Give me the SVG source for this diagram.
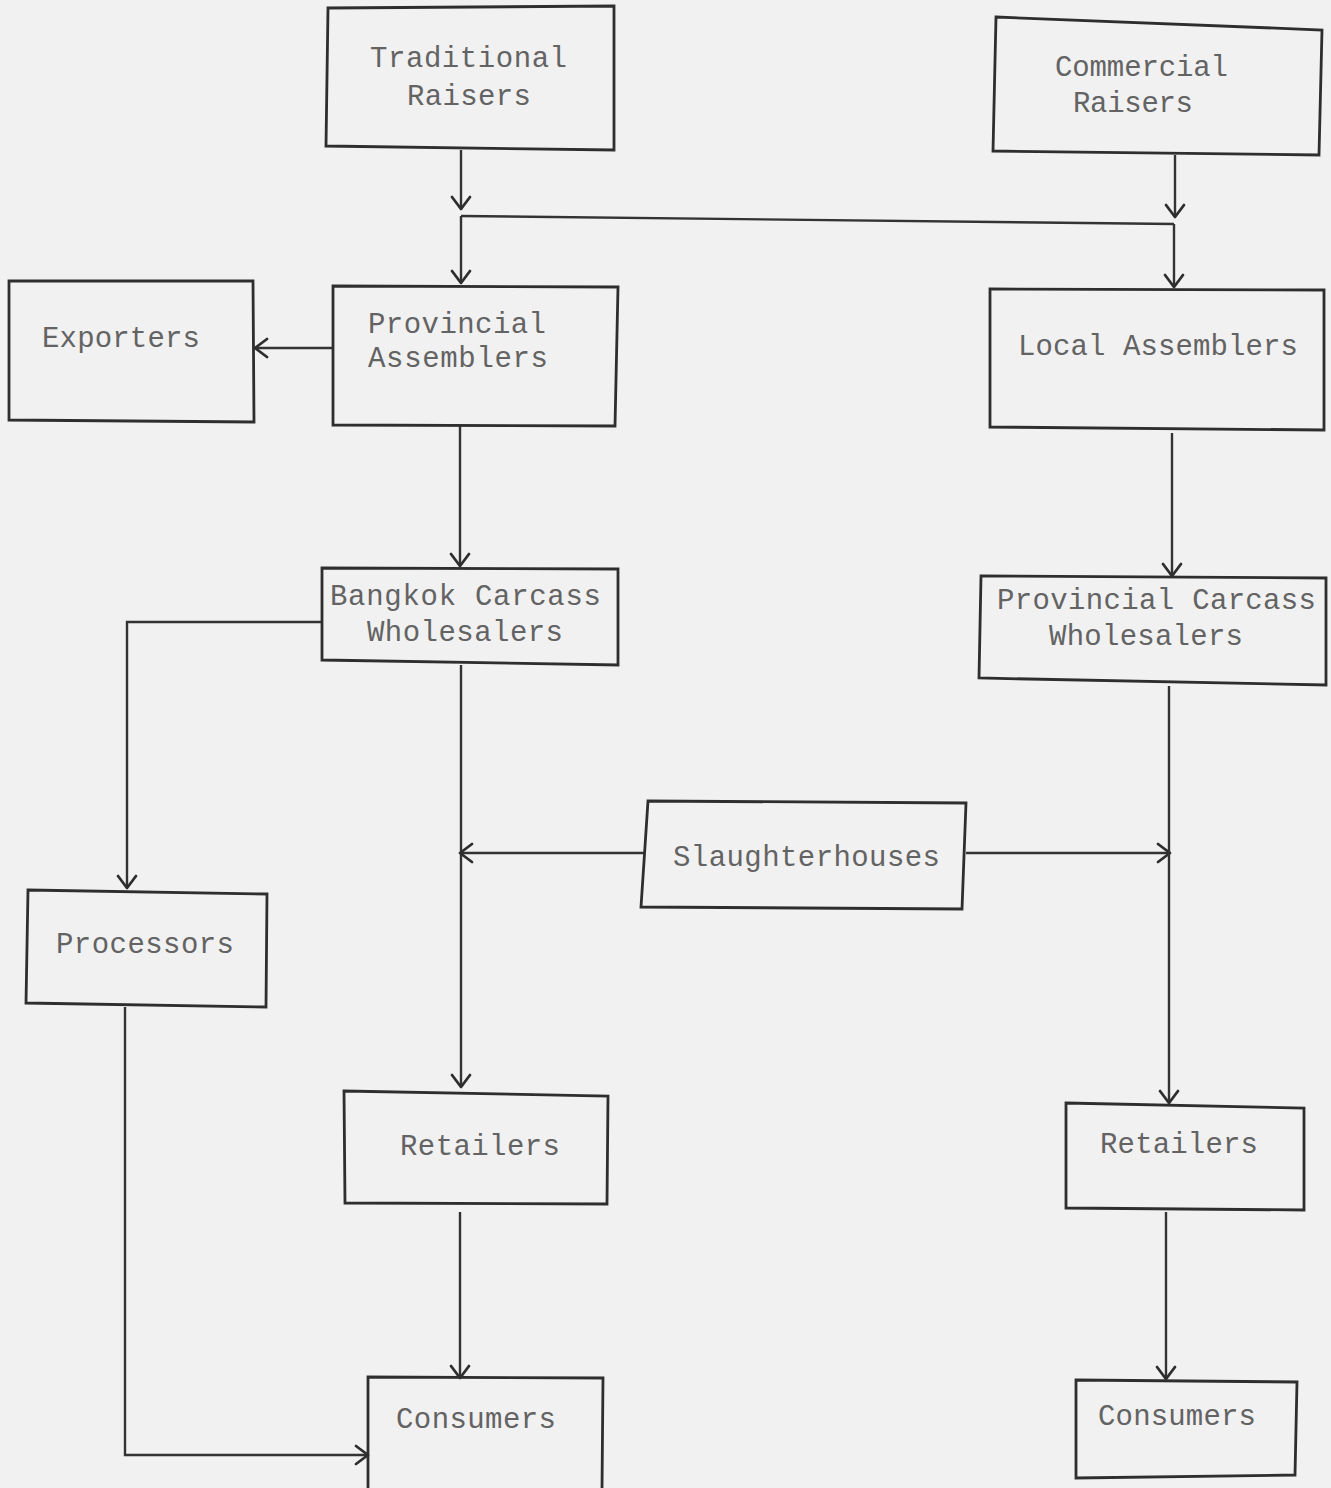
<svg xmlns="http://www.w3.org/2000/svg" width="1331" height="1488" viewBox="0 0 1331 1488">
  <defs>
    <style>
      .box { fill: none; stroke: #2e2e2e; stroke-width: 2.8; stroke-linejoin: miter; }
      .lbl { font-family: "Liberation Mono", "DejaVu Sans Mono", monospace; font-size: 29px; fill: #636363; }
      .edge { fill: none; stroke: #333333; stroke-width: 2.4; }
    </style>
    <marker id="arr" viewBox="0 0 16 22" refX="14" refY="11" markerWidth="16" markerHeight="22" markerUnits="userSpaceOnUse" orient="auto">
      <path d="M2,2 L14,11 L2,20" fill="none" stroke="#2e2e2e" stroke-width="2.8" stroke-linecap="round" stroke-linejoin="round"/>
    </marker>
  </defs>

  <rect x="0" y="0" width="1331" height="1488" fill="#f1f1f1"/>

  <!-- connectors -->
  <g id="connectors">
    <path class="edge" d="M461,150 L461,209" marker-end="url(#arr)"/>
    <path class="edge" d="M461,216 L1174,224"/>
    <path class="edge" d="M461,216 L461,283" marker-end="url(#arr)"/>
    <path class="edge" d="M1175,155 L1175,217" marker-end="url(#arr)"/>
    <path class="edge" d="M1174,224 L1174,287" marker-end="url(#arr)"/>
    <path class="edge" d="M333,348 L255,348" marker-end="url(#arr)"/>
    <path class="edge" d="M460,426 L460,566" marker-end="url(#arr)"/>
    <path class="edge" d="M1172,433 L1172,576" marker-end="url(#arr)"/>
    <path class="edge" d="M322,622 L127,622 L127,888" marker-end="url(#arr)"/>
    <path class="edge" d="M461,665 L461,1087" marker-end="url(#arr)"/>
    <path class="edge" d="M645,853 L460,853" marker-end="url(#arr)"/>
    <path class="edge" d="M966,853 L1170,853" marker-end="url(#arr)"/>
    <path class="edge" d="M1169,686 L1169,1103" marker-end="url(#arr)"/>
    <path class="edge" d="M125,1007 L125,1455 L368,1455" marker-end="url(#arr)"/>
    <path class="edge" d="M460,1212 L460,1378" marker-end="url(#arr)"/>
    <path class="edge" d="M1166,1212 L1166,1379" marker-end="url(#arr)"/>
  </g>

  <!-- nodes -->
  <g id="traditional-raisers">
    <path class="box" d="M328,8 L614,6 L614,150 L326,146 Z"/>
    <text class="lbl" x="370" y="67" textLength="197" lengthAdjust="spacing">Traditional</text>
    <text class="lbl" x="407" y="105" textLength="124" lengthAdjust="spacing">Raisers</text>
  </g>

  <g id="commercial-raisers">
    <path class="box" d="M996,17 L1322,30 L1319,155 L993,151 Z"/>
    <text class="lbl" x="1055" y="76" textLength="173" lengthAdjust="spacing">Commercial</text>
    <text class="lbl" x="1073" y="112" textLength="120" lengthAdjust="spacing">Raisers</text>
  </g>

  <g id="exporters">
    <path class="box" d="M9,281 L253,281 L254,422 L9,420 Z"/>
    <text class="lbl" x="42" y="347" textLength="158" lengthAdjust="spacing">Exporters</text>
  </g>

  <g id="provincial-assemblers">
    <path class="box" d="M333,286 L618,287 L615,426 L333,425 Z"/>
    <text class="lbl" x="368" y="333" textLength="178" lengthAdjust="spacing">Provincial</text>
    <text class="lbl" x="368" y="367" textLength="180" lengthAdjust="spacing">Assemblers</text>
  </g>

  <g id="local-assemblers">
    <path class="box" d="M990,289 L1324,290 L1324,430 L990,427 Z"/>
    <text class="lbl" x="1018" y="355" textLength="280" lengthAdjust="spacing">Local Assemblers</text>
  </g>

  <g id="bangkok-carcass-wholesalers">
    <path class="box" d="M322,568 L618,569 L618,665 L322,660 Z"/>
    <text class="lbl" x="330" y="605" textLength="271" lengthAdjust="spacing">Bangkok Carcass</text>
    <text class="lbl" x="367" y="641" textLength="196" lengthAdjust="spacing">Wholesalers</text>
  </g>

  <g id="provincial-carcass-wholesalers">
    <path class="box" d="M981,576 L1326,578 L1326,685 L979,678 Z"/>
    <text class="lbl" x="997" y="609" textLength="319" lengthAdjust="spacing">Provincial Carcass</text>
    <text class="lbl" x="1049" y="645" textLength="194" lengthAdjust="spacing">Wholesalers</text>
  </g>

  <g id="slaughterhouses">
    <path class="box" d="M648,801 L966,803 L962,909 L641,907 Z"/>
    <text class="lbl" x="673" y="866" textLength="267" lengthAdjust="spacing">Slaughterhouses</text>
  </g>

  <g id="processors">
    <path class="box" d="M28,890 L267,894 L266,1007 L26,1003 Z"/>
    <text class="lbl" x="56" y="953" textLength="178" lengthAdjust="spacing">Processors</text>
  </g>

  <g id="retailers-bangkok">
    <path class="box" d="M344,1091 L608,1096 L607,1204 L345,1203 Z"/>
    <text class="lbl" x="400" y="1155" textLength="160" lengthAdjust="spacing">Retailers</text>
  </g>

  <g id="retailers-provincial">
    <path class="box" d="M1066,1103 L1304,1108 L1304,1210 L1066,1208 Z"/>
    <text class="lbl" x="1100" y="1153" textLength="158" lengthAdjust="spacing">Retailers</text>
  </g>

  <g id="consumers-bangkok">
    <path class="box" d="M368,1490 L368,1377 L603,1378 L602,1490"/>
    <text class="lbl" x="396" y="1428" textLength="160" lengthAdjust="spacing">Consumers</text>
  </g>

  <g id="consumers-provincial">
    <path class="box" d="M1076,1380 L1297,1382 L1295,1475 L1076,1478 Z"/>
    <text class="lbl" x="1098" y="1425" textLength="158" lengthAdjust="spacing">Consumers</text>
  </g>
</svg>
